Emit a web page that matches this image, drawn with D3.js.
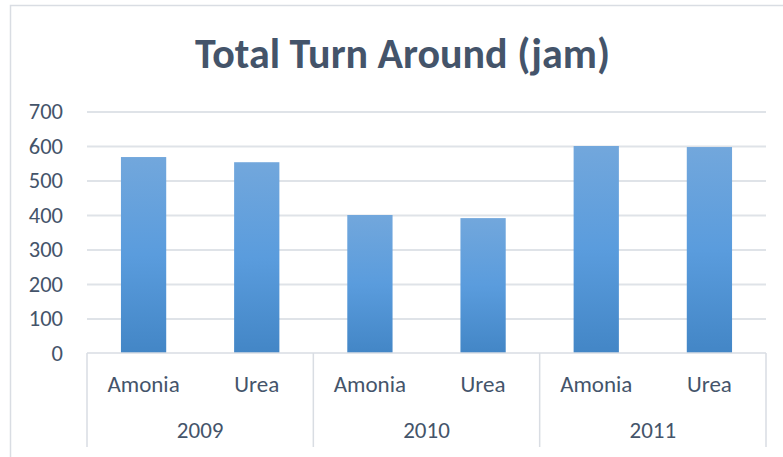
<!DOCTYPE html>
<html>
<head>
<meta charset="utf-8">
<script src="https://cdn.jsdelivr.net/npm/d3@7"></script>
<style>
  body { margin: 0; background: #fff; }
  svg { display: block; }
  text { font-family: Carlito, Calibri, "Open Sans", sans-serif; fill: #44546a; }
</style>
</head>
<body>
<div id="chart"></div>
<script>
// data
var years = ["2009", "2010", "2011"];
var products = ["Amonia", "Urea"];
var amonia = [568, 400, 600];
var urea = [553, 391, 597];
var yTicks = [0, 100, 200, 300, 400, 500, 600, 700];
var title = "Total Turn Around (jam)";

var W = 783, H = 457;
var margin = { top: 111.5, right: 17, bottom: 104, left: 87 };
var width = W - margin.left - margin.right,
    height = H - margin.top - margin.bottom;

var rows = [];
years.forEach(function (yr, i) {
  rows.push({ year: yr, product: products[0], value: amonia[i] });
  rows.push({ year: yr, product: products[1], value: urea[i] });
});

var svg = d3.select("#chart").append("svg")
    .attr("width", W)
    .attr("height", H);

// chart border
svg.append("rect")
    .attr("x", 10.5).attr("y", 5.5)
    .attr("width", 800).attr("height", 500)
    .attr("fill", "none")
    .attr("stroke", "#d9dde3")
    .attr("stroke-width", 1.5);

var defs = svg.append("defs");
var grad = defs.append("linearGradient")
    .attr("id", "barGrad")
    .attr("x1", 0).attr("y1", 0).attr("x2", 0).attr("y2", 1);
grad.append("stop").attr("offset", "0%").attr("stop-color", "#72a7dc");
grad.append("stop").attr("offset", "50%").attr("stop-color", "#5a9cdd");
grad.append("stop").attr("offset", "100%").attr("stop-color", "#4386c6");

svg.append("text")
    .attr("x", 402.5)
    .attr("y", 67.5)
    .attr("text-anchor", "middle")
    .style("font-size", "42px")
    .style("font-weight", "bold")
    .text(title);

var g = svg.append("g")
    .attr("transform", "translate(" + margin.left + "," + margin.top + ")");

var x = d3.scaleBand()
    .domain(rows.map(function (d) { return d.year + "|" + d.product; }))
    .range([0, width])
    .paddingInner(0.6)
    .paddingOuter(0.3);

var xYear = d3.scaleBand()
    .domain(years)
    .range([0, width]);

var y = d3.scaleLinear()
    .domain([0, 700])
    .range([height, 0]);

// gridlines + y labels
var yAxis = g.append("g")
    .attr("class", "axis axis--y")
    .call(d3.axisLeft(y).tickValues(yTicks).tickSize(-width).tickPadding(24));
yAxis.select(".domain").remove();
yAxis.selectAll(".tick line")
    .attr("stroke", "#dfe3e8")
    .attr("stroke-width", 2)
    .attr("opacity", function (d) { return d === 0 ? 0 : 1; });
yAxis.selectAll(".tick text")
    .style("font-size", "22.5px")
    .attr("fill", "#44546a");

// bars
g.selectAll(".bar")
    .data(rows)
  .enter().append("rect")
    .attr("class", "bar")
    .attr("x", function (d) { return x(d.year + "|" + d.product); })
    .attr("y", function (d) { return y(d.value); })
    .attr("width", x.bandwidth())
    .attr("height", function (d) { return height - y(d.value); })
    .attr("fill", "url(#barGrad)");

// category axis
var axisCol = "#d9dde3";
g.append("line")
    .attr("x1", 0).attr("x2", width)
    .attr("y1", height).attr("y2", height)
    .attr("stroke", axisCol).attr("stroke-width", 1.5);

var bounds = years.map(function (yr) { return xYear(yr); }).concat([width]);
g.selectAll(".divider")
    .data(bounds)
  .enter().append("line")
    .attr("class", "divider")
    .attr("x1", function (d) { return d; }).attr("x2", function (d) { return d; })
    .attr("y1", height).attr("y2", height + 94)
    .attr("stroke", axisCol).attr("stroke-width", 1.5);

g.selectAll(".prodLabel")
    .data(rows)
  .enter().append("text")
    .attr("class", "prodLabel")
    .attr("x", function (d) { return x(d.year + "|" + d.product) + x.bandwidth() / 2; })
    .attr("y", height + 39)
    .attr("text-anchor", "middle")
    .style("font-size", "23px")
    .text(function (d) { return d.product; });

g.selectAll(".yearLabel")
    .data(years)
  .enter().append("text")
    .attr("class", "yearLabel")
    .attr("x", function (d) { return xYear(d) + xYear.bandwidth() / 2; })
    .attr("y", height + 85)
    .attr("text-anchor", "middle")
    .style("font-size", "23px")
    .text(function (d) { return d; });
</script>
</body>
</html>
